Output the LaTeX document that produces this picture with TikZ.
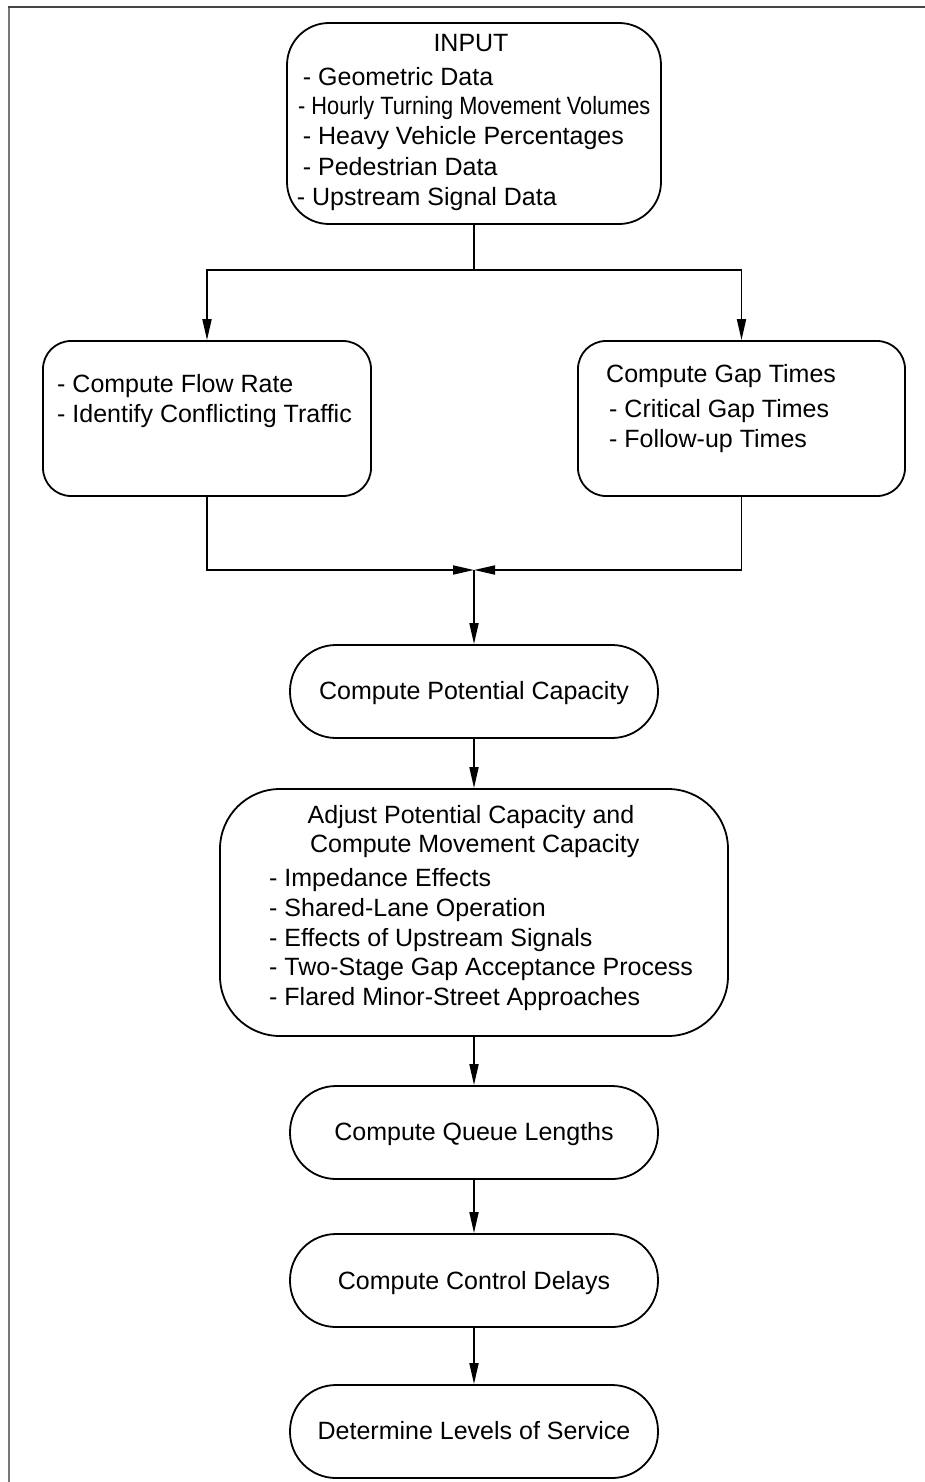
\documentclass[tikz,border=0pt]{standalone}
\usepackage{fontspec}
\setmainfont{Liberation Sans}
\newfontfamily\narrowfont[FakeStretch=0.87]{Liberation Sans}
\usetikzlibrary{arrows.meta}
\definecolor{framegray}{RGB}{120,120,120}
\definecolor{framedark}{RGB}{70,70,70}
\tikzset{
  box/.style={draw, line width=1.8pt, rectangle, inner sep=0pt},
  txt/.style={inner sep=0pt, font=\fontsize{25}{30}\selectfont},
  lt/.style={txt, anchor=base west},
  ct/.style={txt, anchor=base},
  conn/.style={line width=1.8pt},
  arr/.style={conn, -{Triangle[length=21pt,width=9pt]}}
}
\begin{document}
\begin{tikzpicture}[x=1pt,y=-1pt]
\useasboundingbox (0,0) rectangle (925,1482);
% frame
\draw[framegray, line width=2pt] (8.5,1482) -- (8.5,7.5);
\draw[framedark, line width=2pt] (7.5,7.5) -- (925,7.5);

% boxes
\node[box, rounded corners=42pt, minimum width=374pt, minimum height=201pt] (in) at (474,123.5) {};
\node[box, rounded corners=28pt, minimum width=328pt, minimum height=155pt] (fl) at (207,418.5) {};
\node[box, rounded corners=28pt, minimum width=327pt, minimum height=155pt] (gap) at (741.5,418.5) {};
\node[box, rounded corners=46pt, minimum width=368pt, minimum height=93pt] (pot) at (474,691.5) {};
\node[box, rounded corners=60pt, minimum width=508pt, minimum height=247pt] (adj) at (474,912.5) {};
\node[box, rounded corners=46pt, minimum width=368pt, minimum height=93pt] (que) at (474,1132.5) {};
\node[box, rounded corners=46pt, minimum width=368pt, minimum height=93pt] (del) at (474,1280.5) {};
\node[box, rounded corners=46pt, minimum width=368pt, minimum height=93pt] (los) at (474,1431.5) {};

% texts: INPUT
\node[ct] (t0) at (471,52) {INPUT};
\node[lt] (t1) at (302.7,86) {- Geometric Data};
\node[lt] (t2) at (298,115) {\narrowfont - Hourly Turning Movement Volumes};
\node[lt] (t3) at (302.7,145) {- Heavy Vehicle Percentages};
\node[lt] (t4) at (302.7,176) {- Pedestrian Data};
\node[lt] (t5) at (296.7,205) {- Upstream Signal Data};
% left box
\node[lt] (f1) at (57,392) {- Compute Flow Rate};
\node[lt] (f2) at (57,422) {- Identify Conflicting Traffic};
% right box
\node[lt] (g0) at (606,382) {Compute Gap Times};
\node[lt] (g1) at (609,417) {- Critical Gap Times};
\node[lt] (g2) at (609,447) {- Follow-up Times};
% potential capacity
\node[ct] (p0) at (474,699) {Compute Potential Capacity};
% adjust
\node[ct] (a0) at (471,823) {Adjust Potential Capacity and};
\node[ct] (a1) at (474.7,852) {Compute Movement Capacity};
\node[lt] (a2) at (269,886) {- Impedance Effects};
\node[lt] (a3) at (269,916) {- Shared-Lane Operation};
\node[lt] (a4) at (269,946) {- Effects of Upstream Signals};
\node[lt] (a5) at (269,975) {- Two-Stage Gap Acceptance Process};
\node[lt] (a6) at (269,1005) {- Flared Minor-Street Approaches};
% bottom boxes
\node[ct] (q0) at (474,1140) {Compute Queue Lengths};
\node[ct] (d0) at (474,1289) {Compute Control Delays};
\node[ct] (l0) at (474,1439) {Determine Levels of Service};

% connectors
\coordinate (split) at (474,270);
\coordinate (merge) at (474,570);
\draw[conn] (in.south) -- (split);
\draw[arr] (split) -| (fl.north);
\draw[arr] (split) -| (gap.north);
\draw[arr] (fl.south) |- (merge);
\draw[arr] (gap.south) |- (merge);
\draw[arr] (merge) -- (pot.north);
\draw[arr] (pot.south) -- (adj.north);
\draw[arr] (adj.south) -- (que.north);
\draw[arr] (que.south) -- (del.north);
\draw[arr] (del.south) -- (los.north);
\end{tikzpicture}
\end{document}
